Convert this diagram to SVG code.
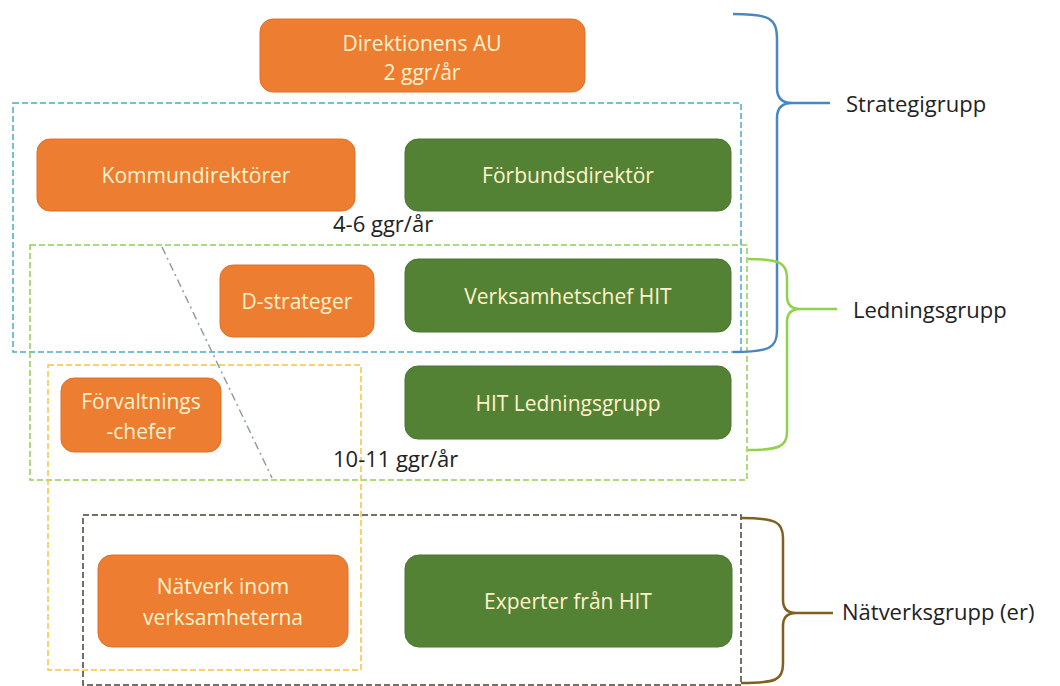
<svg xmlns="http://www.w3.org/2000/svg" width="1060" height="686" viewBox="0 0 1060 686">
<style>
.or{fill:#ED7D31;stroke:#E0702A;stroke-width:1}
.gr{fill:#548235;stroke:#4A7530;stroke-width:1}
.bt{font-family:"Open Sans","Liberation Sans",sans-serif;font-size:21px;fill:#FFF2CC;text-anchor:middle;dominant-baseline:central}
.lbl{font-family:"Open Sans","Liberation Sans",sans-serif;font-size:22px;fill:#222}
.frame{fill:none;stroke-width:1.5;stroke-dasharray:6 3}
.brace{fill:none;stroke-width:2.5;stroke-linejoin:round}
</style>
<rect width="1060" height="686" fill="#fff"/>
<g id="frames">
<rect class="frame" x="13" y="103" width="728" height="249" stroke="#4BACC6"/>
<rect class="frame" x="30" y="245" width="717" height="235" stroke="#92D050"/>
<rect class="frame" x="48" y="365" width="313" height="305" stroke="#F5C542"/>
<rect class="frame" x="83" y="515" width="658" height="170" stroke="#4a4030"/>
</g>
<g id="connectors">
<line x1="162" y1="247" x2="272" y2="478" stroke="#8aa090" stroke-width="1.5" stroke-dasharray="8 4 2 4"/>
<path class="brace" stroke="#4A86C0" d="M733,14 C770,14 777,18 777,40 L777,88 Q777,103 792,103 L830,103 M792,103 Q777,103 777,118 L777,330 C777,348 770,352 733,352"/>
<path class="brace" stroke="#92D050" d="M748,259 C780,259 787,263 787,278 L787,296 Q787,309 800,309 L837,309 M800,309 Q787,309 787,322 L787,432 C787,446 780,450 748,450"/>
<path class="brace" stroke="#806020" d="M741,518 C776,518 783,522 783,538 L783,600 Q783,613 796,613 L833,613 M796,613 Q783,613 783,626 L783,664 C783,680 776,683 741,683"/>
</g>
<g id="n-direktionens-au"><rect class="or" x="260" y="19" width="325" height="73" rx="13"/><text class="bt" x="422" y="43">Direktionens AU</text><text class="bt" x="422" y="72">2 ggr/år</text></g>
<g id="n-kommundirektorer"><rect class="or" x="37" y="139" width="318" height="72" rx="13"/><text class="bt" x="196" y="175">Kommundirektörer</text></g>
<g id="n-forbundsdirektor"><rect class="gr" x="405" y="139" width="326" height="72" rx="13"/><text class="bt" x="568" y="175">Förbundsdirektör</text></g>
<g id="t-4-6"><text class="lbl" x="333" y="232">4-6 ggr/år</text></g>
<g id="n-d-strateger"><rect class="or" x="220" y="265" width="154" height="72" rx="13"/><text class="bt" x="297" y="301">D-strateger</text></g>
<g id="n-verksamhetschef"><rect class="gr" x="405" y="259" width="326" height="73" rx="13"/><text class="bt" x="568" y="296">Verksamhetschef HIT</text></g>
<g id="n-forvaltningschefer"><rect class="or" x="61" y="378" width="160" height="74" rx="13"/><text class="bt" x="141" y="401">Förvaltnings</text><text class="bt" x="141" y="431">-chefer</text></g>
<g id="n-hit-ledningsgrupp"><rect class="gr" x="405" y="366" width="326" height="73" rx="13"/><text class="bt" x="568" y="403">HIT Ledningsgrupp</text></g>
<g id="t-10-11"><text class="lbl" x="333" y="467">10-11 ggr/år</text></g>
<g id="n-natverk"><rect class="or" x="98" y="555" width="250" height="92" rx="14"/><text class="bt" x="223" y="586">Nätverk inom</text><text class="bt" x="223" y="617">verksamheterna</text></g>
<g id="n-experter"><rect class="gr" x="405" y="555" width="327" height="92" rx="14"/><text class="bt" x="568" y="601">Experter från HIT</text></g>
<g id="labels">
<text class="lbl" x="846" y="112">Strategigrupp</text>
<text class="lbl" x="853" y="318">Ledningsgrupp</text>
<text class="lbl" x="842" y="620">Nätverksgrupp (er)</text>
</g>
</svg>
